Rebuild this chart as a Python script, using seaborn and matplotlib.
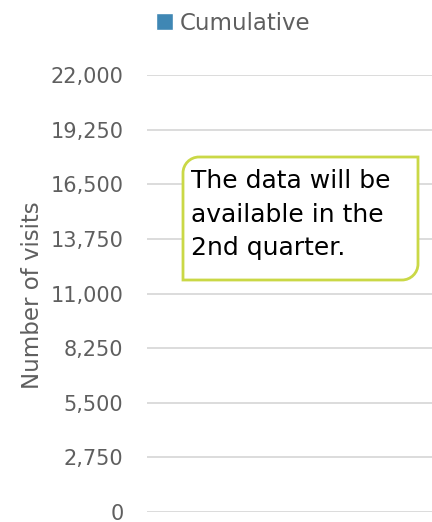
import matplotlib
matplotlib.use("Agg")
import matplotlib.pyplot as plt
import numpy as np
import pandas as pd
import seaborn as sns
from matplotlib.patches import Patch, PathPatch
from matplotlib.path import Path
from matplotlib.ticker import FuncFormatter

# Data: no values reported yet
quarters = ["Q1", "Q2", "Q3", "Q4"]
cumulative = [np.nan, np.nan, np.nan, np.nan]
y_ticks = [0, 2750, 5500, 8250, 11000, 13750, 16500, 19250, 22000]
series_name = "Cumulative"
note = "The data will be\navailable in the\n2nd quarter."

BAR_COLOR = "#3F87B4"
BOX_COLOR = "#CAD846"
TEXT_COLOR = "#5F5F5F"

sns.set_style("white")
plt.rcParams["font.family"] = ["DejaVu Sans"]

df = pd.DataFrame({"Quarter": quarters, "Visits": cumulative})

W, H = 432, 522
fig = plt.figure(figsize=(W / 100, H / 100), dpi=100)
ax = fig.add_axes([147 / W, 10 / H, 285 / W, 437 / H])

sns.barplot(data=df, x="Quarter", y="Visits", color=BAR_COLOR, ax=ax)

ax.set_ylim(0, 22000)
ax.set_yticks(y_ticks)
ax.yaxis.set_major_formatter(FuncFormatter(lambda v, p: f"{int(v):,}"))
ax.grid(axis="y", color="#D9D9D9", linewidth=1.3)
ax.set_axisbelow(True)
ax.tick_params(axis="y", length=0, pad=17, labelsize=15, labelcolor=TEXT_COLOR)
ax.set_xticks([])
ax.set_xlabel("")
ax.set_ylabel("Number of visits", fontsize=16.5, color=TEXT_COLOR)
ax.yaxis.set_label_coords(-0.36, 0.495)
sns.despine(ax=ax, left=True, bottom=True, top=True, right=True)

# legend on top
fig.legend(
    handles=[Patch(facecolor=BAR_COLOR, label=series_name)],
    loc="center",
    bbox_to_anchor=(233 / W, 1 - 23 / H),
    frameon=False,
    fontsize=16.5,
    labelcolor=TEXT_COLOR,
    handlelength=0.75,
    handleheight=0.75,
    handletextpad=0.3,
    borderpad=0,
)

# callout box: rounded top-left and bottom-right corners
x0, x1 = 183 / W, 418 / W
y0, y1 = 1 - 280 / H, 1 - 157 / H
rx, ry = 16 / W, 16 / H
k = 0.45
verts = [
    (x0 + rx, y1),
    (x1, y1),
    (x1, y0 + ry),
    (x1, y0 + ry * k), (x1 - rx * k, y0), (x1 - rx, y0),
    (x0, y0),
    (x0, y1 - ry),
    (x0, y1 - ry * k), (x0 + rx * k, y1), (x0 + rx, y1),
]
codes = [Path.MOVETO, Path.LINETO, Path.LINETO,
         Path.CURVE4, Path.CURVE4, Path.CURVE4,
         Path.LINETO, Path.LINETO,
         Path.CURVE4, Path.CURVE4, Path.CURVE4]
fig.add_artist(PathPatch(Path(verts, codes), facecolor="white",
                         edgecolor=BOX_COLOR, linewidth=2,
                         transform=fig.transFigure, zorder=5))
fig.text(191 / W, 1 - 169 / H, note, ha="left", va="top",
         fontsize=18, color="black", linespacing=1.5, zorder=6)

fig.savefig("out.png", dpi=100)
